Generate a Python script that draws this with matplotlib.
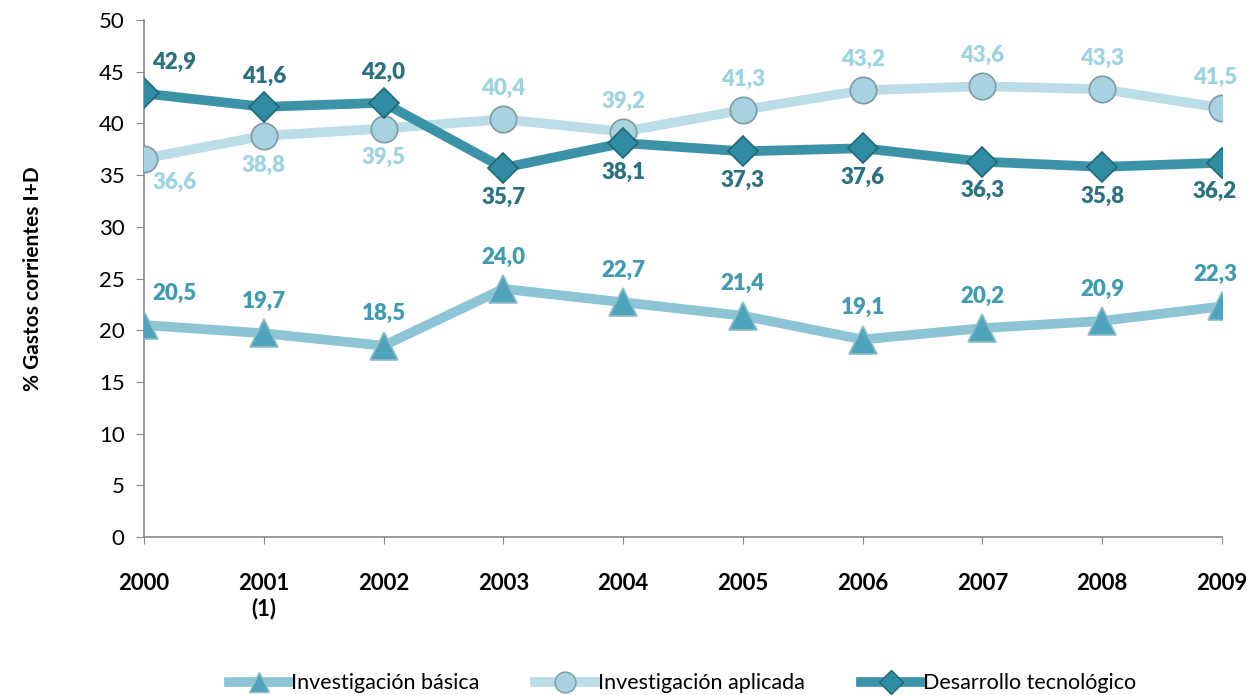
import matplotlib
matplotlib.use("Agg")
import matplotlib.pyplot as plt
from matplotlib.lines import Line2D

plt.rcParams["font.family"] = ["Lato", "DejaVu Sans"]

# Donnees
years = ["2000", "2001\n(1)", "2002", "2003", "2004", "2005", "2006", "2007", "2008", "2009"]
basica = [20.5, 19.7, 18.5, 24.0, 22.7, 21.4, 19.1, 20.2, 20.9, 22.3]
aplicada = [36.6, 38.8, 39.5, 40.4, 39.2, 41.3, 43.2, 43.6, 43.3, 41.5]
desarrollo = [42.9, 41.6, 42.0, 35.7, 38.1, 37.3, 37.6, 36.3, 35.8, 36.2]

x = list(range(len(years)))

fig = plt.figure(figsize=(12.52, 6.95), dpi=100)
ax = fig.add_axes([0.115, 0.2273, 0.861, 0.7439])

# series
ax.plot(x, basica, color="#8DC5D7", lw=7, solid_capstyle="round", zorder=2)
ax.plot(x, basica, ls="none", marker="^", ms=20, mfc="#4FA3BA", mec="#8FBECC", mew=1.2, zorder=3)
ax.plot(x, aplicada, color="#BBDDE7", lw=7, solid_capstyle="round", zorder=2)
ax.plot(x, aplicada, ls="none", marker="o", ms=19, mfc="#A9D2E0", mec="#7D9AA5", mew=1.2, zorder=3)
ax.plot(x, desarrollo, color="#3C93A7", lw=7, solid_capstyle="round", zorder=4)
ax.plot(x, desarrollo, ls="none", marker="D", ms=15, mfc="#2F8CA2", mec="#1F6777", mew=1.2, zorder=5)

def fmt(v):
    return f"{v:.1f}".replace(".", ",")

lab_font = dict(fontsize=16, fontweight="heavy", va="center")


def label(i, v, dy, color):
    # premier point : texte decale a droite de l'axe
    if i == 0:
        ax.annotate(fmt(v), (i, v), xytext=(6, dy), textcoords="offset points",
                    color=color, ha="left", **lab_font)
    elif i == len(x) - 1:
        ax.annotate(fmt(v), (i, v), xytext=(-5, dy), textcoords="offset points",
                    color=color, ha="center", **lab_font)
    else:
        ax.annotate(fmt(v), (i, v), xytext=(0, dy), textcoords="offset points",
                    color=color, ha="center", **lab_font)


for i, v in enumerate(basica):
    label(i, v, 23, "#3F9BB2")
for i, v in enumerate(aplicada):
    label(i, v, (-17 if i == 0 else -21) if i < 3 else 22, "#9ED3E2")
for i, v in enumerate(desarrollo):
    label(i, v, 22 if i < 3 else -21, "#2A7181")

ax.set_xlim(0, 9)
ax.set_ylim(0, 50)
ax.set_yticks(range(0, 51, 5))
ax.set_xticks(x)
ax.set_xticklabels(years, fontsize=16, fontweight="bold", va="top")
ax.tick_params(axis="y", labelsize=16, length=6, color="#888888", pad=8)
ax.tick_params(axis="x", length=5, color="#888888", pad=21, direction="out")
ax.set_ylabel("% Gastos corrientes I+D", fontsize=15, fontweight="bold", labelpad=40)

for s in ["top", "right"]:
    ax.spines[s].set_visible(False)
for s in ["left", "bottom"]:
    ax.spines[s].set_color("#888888")
    ax.spines[s].set_linewidth(1.2)
    ax.spines[s].set_zorder(1)

handles = [
    Line2D([], [], color="#8DC5D7", lw=7, marker="^", ms=15, mfc="#4FA3BA", mec="#8FBECC"),
    Line2D([], [], color="#BBDDE7", lw=7, marker="o", ms=15, mfc="#A9D2E0", mec="#7D9AA5"),
    Line2D([], [], color="#3C93A7", lw=7, marker="D", ms=12, mfc="#2F8CA2", mec="#1F6777"),
]
labels = ["Investigación básica", "Investigación aplicada", "Desarrollo tecnológico"]
fig.legend(handles, labels, loc="center", bbox_to_anchor=(0.545, 0.017), ncol=3,
           frameon=False, fontsize=15.5, handlelength=2.8, handletextpad=0.1,
           columnspacing=2.6)

fig.savefig("out.png", dpi=100)
